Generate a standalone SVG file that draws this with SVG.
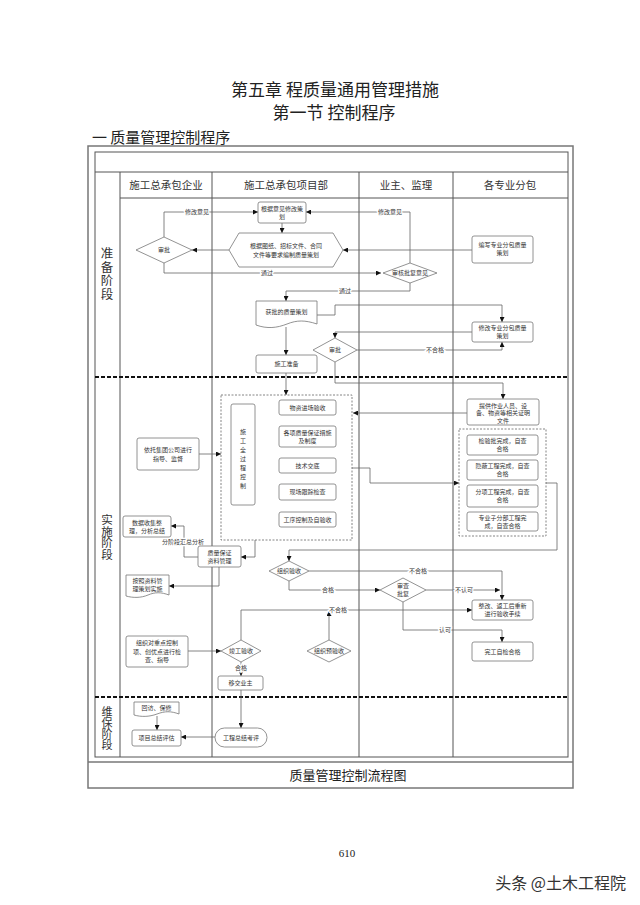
<svg xmlns="http://www.w3.org/2000/svg" width="640" height="905" viewBox="0 0 640 905">
<defs>
<marker id="arr" viewBox="0 0 10 10" refX="10" refY="5" markerWidth="5" markerHeight="5" markerUnits="userSpaceOnUse" orient="auto">
<path d="M0,0 L10,5 L0,10 z" fill="#111"/>
</marker>
<style>
.frame{fill:none;stroke:#777;stroke-width:1.5}
.grid{fill:none;stroke:#555;stroke-width:1}
.phase{fill:none;stroke:#111;stroke-width:1.8;stroke-dasharray:4 2}
.box{fill:#fff;stroke:#777;stroke-width:0.8}
.dash{fill:none;stroke:#666;stroke-width:0.8;stroke-dasharray:2 1.5}
.t{font-family:"Noto Sans CJK SC","Noto Sans",sans-serif;font-size:6px;fill:#333;text-anchor:middle}
.h{font-family:"Noto Sans CJK SC",sans-serif;font-size:10.5px;fill:#333;text-anchor:middle}
.ph{font-family:"Noto Sans CJK SC",sans-serif;fill:#333;text-anchor:middle;writing-mode:tb}
.title{font-family:"Noto Sans CJK SC",sans-serif;font-size:17px;fill:#222;text-anchor:middle}
.conn path{fill:none;stroke:#666;stroke-width:0.8;marker-end:url(#arr)}
.lbl{font-family:"Noto Sans CJK SC",sans-serif;font-size:6px;fill:#333;text-anchor:middle;stroke:#fff;stroke-width:2.5;paint-order:stroke}
</style>
</defs>
<rect width="640" height="905" fill="#fff"/>

<!-- titles -->
<text class="title" x="335" y="96">第五章 程质量通用管理措施</text>
<text class="title" x="334" y="119">第一节 控制程序</text>
<text x="92" y="143" style="font-family:'Noto Sans CJK SC',sans-serif;font-size:15px;fill:#222">一 质量管理控制程序</text>

<!-- frame and swimlanes -->
<g id="frame">
<rect class="frame" x="88" y="146" width="485" height="642"/>
<line class="frame" x1="88" y1="762" x2="573" y2="762"/>
<rect class="grid" x="95" y="152" width="473" height="605"/>
<line class="grid" x1="95" y1="172" x2="568" y2="172"/>
<line class="grid" x1="120" y1="198" x2="568" y2="198"/>
<line class="grid" x1="120" y1="172" x2="120" y2="757"/>
<line class="grid" x1="212" y1="172" x2="212" y2="757"/>
<line class="grid" x1="359" y1="172" x2="359" y2="757"/>
<line class="grid" x1="453" y1="172" x2="453" y2="757"/>
<line class="phase" x1="95" y1="377" x2="568" y2="377"/>
<line class="phase" x1="95" y1="697" x2="568" y2="697"/>
<text class="h" x="166" y="189">施工总承包企业</text>
<text class="h" x="286" y="189">施工总承包项目部</text>
<text class="h" x="406" y="189">业主、监理</text>
<text class="h" x="510" y="189">各专业分包</text>
<text class="ph" x="107" y="274" style="font-size:12.5px;letter-spacing:1px">准备阶段</text>
<text class="ph" x="107" y="537" style="font-size:11.5px">实施阶段</text>
<text class="ph" x="107" y="728" style="font-size:11px">维保阶段</text>
<text x="348" y="780" style="font-family:'Noto Sans CJK SC',sans-serif;font-size:13px;fill:#222;text-anchor:middle">质量管理控制流程图</text>
</g>

<!-- connectors -->
<g id="connectors" class="conn">
<path d="M282,223 V233"/>
<path d="M229,250 H192"/>
<path d="M164,237 V212 H258"/>
<path d="M164,263 V273 H381"/>
<path d="M410,263 V212 H306"/>
<path d="M472,250 H343"/>
<path d="M410,283 V291 H286 V301"/>
<path d="M317,315 H335 V305 H502 V322"/>
<path d="M472,332 H335 V338"/>
<path d="M357,350 H502 V342"/>
<path d="M286,327 V355"/>
<path d="M286,373 V395"/>
<path d="M335,362 V383 H503 V399"/>
<path d="M467,413 H353"/>
<path d="M199,454 H221"/>
<path d="M352,468 H370 V483 H459"/>
<path d="M546,483 H557 V550 H289 V561"/>
<path d="M255,540 V557 H241"/>
<path d="M198,557 H184 V526 H171"/>
<path d="M219,567 V586 H169"/>
<path d="M309,571 H502 V600"/>
<path d="M289,581 V590 H380"/>
<path d="M426,590 H500"/>
<path d="M403,602 V630 H502 V642"/>
<path d="M241,640 V610 H472"/>
<path d="M329,640 V611"/>
<path d="M188,651 H221"/>
<path d="M241,662 V676"/>
<path d="M241,690 V728"/>
<path d="M215,737 H181"/>
<path d="M157,716 V730"/>
<text class="lbl" x="197" y="214">修改意见</text>
<text class="lbl" x="267" y="275">通过</text>
<text class="lbl" x="390" y="214">修改意见</text>
<text class="lbl" x="345" y="293">通过</text>
<text class="lbl" x="435" y="352">不合格</text>
<text class="lbl" x="183" y="544">分阶段汇总分析</text>
<text class="lbl" x="418" y="573">不合格</text>
<text class="lbl" x="328" y="592">合格</text>
<text class="lbl" x="464" y="592">不认可</text>
<text class="lbl" x="445" y="632">认可</text>
<text class="lbl" x="338" y="612">不合格</text>
<text class="lbl" x="241" y="670">合格</text>
</g>

<!-- preparation phase -->
<g id="n-revise">
<rect class="box" x="258" y="202" width="48" height="21" rx="2"/>
<text class="t" x="282" y="210.5">根据意见修改策</text>
<text class="t" x="282" y="218.5">划</text>
</g>
<g id="n-plan">
<polygon class="box" points="229,250 239,233 333,233 343,250 333,267 239,267"/>
<text class="t" x="286" y="248">根据图纸、招标文件、合同</text>
<text class="t" x="286" y="257">文件等要求编制质量策划</text>
</g>
<g id="n-approve1">
<polygon class="box" points="136,250 164,237 192,250 164,263"/>
<text class="t" x="164" y="252">审批</text>
</g>
<g id="n-review">
<polygon class="box" points="383,273 410,263 437,273 410,283"/>
<text class="t" x="410" y="275">审核批复意见</text>
</g>
<g id="n-subplan">
<rect class="box" x="472" y="236" width="61" height="27" rx="2"/>
<text class="t" x="502.5" y="247">编写专业分包质量</text>
<text class="t" x="502.5" y="255">策划</text>
</g>
<g id="n-approved">
<path class="box" d="M256,301 H317 V324 C305,320 297,320 287,324 C277,328 267,329 256,325 Z"/>
<text class="t" x="286.5" y="314">获批的质量策划</text>
</g>
<g id="n-subrevise">
<rect class="box" x="472" y="322" width="61" height="20" rx="2"/>
<text class="t" x="502.5" y="330">修改专业分包质量</text>
<text class="t" x="502.5" y="338">策划</text>
</g>
<g id="n-approve2">
<polygon class="box" points="313,350 335,338 357,350 335,362"/>
<text class="t" x="335" y="352">审批</text>
</g>
<g id="n-prep">
<rect class="box" x="256" y="355" width="61" height="18" rx="2"/>
<text class="t" x="286.5" y="366">施工准备</text>
</g>

<!-- implementation phase -->
<g id="n-process">
<rect class="dash" x="221" y="395" width="131" height="145"/>
<rect class="box" x="231" y="404" width="24" height="101" rx="2"/>
<text class="t" x="243" y="434">施</text>
<text class="t" x="243" y="443">工</text>
<text class="t" x="243" y="452">全</text>
<text class="t" x="243" y="461">过</text>
<text class="t" x="243" y="470">程</text>
<text class="t" x="243" y="479">控</text>
<text class="t" x="243" y="488">制</text>
</g>
<g id="n-material">
<rect class="box" x="279" y="400" width="57" height="15" rx="2"/>
<text class="t" x="307.5" y="409.5">物资进场验收</text>
</g>
<g id="n-measures">
<rect class="box" x="279" y="426" width="57" height="21" rx="2"/>
<text class="t" x="307.5" y="434.5">各项质量保证措施</text>
<text class="t" x="307.5" y="442.5">及制度</text>
</g>
<g id="n-tech">
<rect class="box" x="279" y="458" width="57" height="15" rx="2"/>
<text class="t" x="307.5" y="467.5">技术交底</text>
</g>
<g id="n-track">
<rect class="box" x="279" y="484" width="57" height="16" rx="2"/>
<text class="t" x="307.5" y="494">现场跟踪检查</text>
</g>
<g id="n-procedure">
<rect class="box" x="279" y="512" width="57" height="15" rx="2"/>
<text class="t" x="307.5" y="521.5">工序控制及自验收</text>
</g>
<g id="n-group">
<rect class="box" x="137" y="438" width="62" height="32" rx="2"/>
<text class="t" x="168" y="452">依托集团公司进行</text>
<text class="t" x="168" y="461">指导、监督</text>
</g>
<g id="n-provide">
<rect class="box" x="467" y="399" width="72" height="26" rx="2"/>
<text class="t" x="503" y="407.5">提供作业人员、设</text>
<text class="t" x="503" y="415">备、物资等相关证明</text>
<text class="t" x="503" y="422.5">文件</text>
</g>
<g id="n-subchecks">
<rect class="dash" x="459" y="429" width="87" height="107"/>
<rect class="box" x="467" y="435" width="71" height="20" rx="2"/>
<text class="t" x="502.5" y="443">检验批完成，自查</text>
<text class="t" x="502.5" y="451">合格</text>
<rect class="box" x="467" y="460" width="71" height="20" rx="2"/>
<text class="t" x="502.5" y="468">隐蔽工程完成，自查</text>
<text class="t" x="502.5" y="476">合格</text>
<rect class="box" x="467" y="485" width="71" height="22" rx="2"/>
<text class="t" x="502.5" y="494">分项工程完成，自查</text>
<text class="t" x="502.5" y="502">合格</text>
<rect class="box" x="467" y="512" width="71" height="19" rx="2"/>
<text class="t" x="502.5" y="520">专业子分部工程完</text>
<text class="t" x="502.5" y="528">成，自查合格</text>
</g>
<g id="n-data">
<rect class="box" x="123" y="516" width="48" height="21" rx="2"/>
<text class="t" x="147" y="524.5">数据收集整</text>
<text class="t" x="147" y="532.5">理，分析总结</text>
</g>
<g id="n-records">
<rect class="box" x="198" y="546" width="43" height="21" rx="2"/>
<text class="t" x="219.5" y="554.5">质量保证</text>
<text class="t" x="219.5" y="562.5">资料管理</text>
</g>
<g id="n-docplan">
<path class="box" d="M126,575 H169 V595 C161,592 155,592 148,595 C141,598 133,598 126,596 Z"/>
<text class="t" x="147.5" y="583">按照资料管</text>
<text class="t" x="147.5" y="591">理策划实施</text>
</g>
<g id="n-inspect">
<polygon class="box" points="269,571 289,561 309,571 289,581"/>
<text class="t" x="289" y="573">组织验收</text>
</g>
<g id="n-check">
<polygon class="box" points="380,590 403,578 426,590 403,602"/>
<text class="t" x="403" y="588">审查</text>
<text class="t" x="403" y="596">批复</text>
</g>
<g id="n-rework">
<rect class="box" x="472" y="600" width="61" height="20" rx="2"/>
<text class="t" x="502.5" y="608">整改、返工后重新</text>
<text class="t" x="502.5" y="616">进行验收手续</text>
</g>
<g id="n-selfcheck">
<rect class="box" x="472" y="642" width="61" height="19" rx="2"/>
<text class="t" x="502.5" y="653.5">完工自检合格</text>
</g>
<g id="n-keypoints">
<rect class="box" x="126" y="636" width="62" height="31" rx="2"/>
<text class="t" x="157" y="645">组织对重点控制</text>
<text class="t" x="157" y="653.5">项、创优点进行检</text>
<text class="t" x="157" y="662">查、指导</text>
</g>
<g id="n-final">
<polygon class="box" points="221,651 241,640 261,651 241,662"/>
<text class="t" x="241" y="653">竣工验收</text>
</g>
<g id="n-preinspect">
<polygon class="box" points="307,651 329,640 351,651 329,662"/>
<text class="t" x="329" y="653">组织预验收</text>
</g>
<g id="n-handover">
<rect class="box" x="218" y="676" width="45" height="14" rx="2"/>
<text class="t" x="240.5" y="685">移交业主</text>
</g>

<!-- maintenance phase -->
<g id="n-visit">
<path class="box" d="M134,702 H179 V714 C171,711 165,711 157,714 C149,717 141,717 134,715 Z"/>
<text class="t" x="156.5" y="710">回访、保修</text>
</g>
<g id="n-assess">
<rect class="box" x="132" y="730" width="49" height="16" rx="2"/>
<text class="t" x="156.5" y="740">项目总结评估</text>
</g>
<g id="n-summary">
<rect class="box" x="215" y="728" width="52" height="19" rx="9.5"/>
<text class="t" x="241" y="739.5">工程总结考评</text>
</g>

<text x="347" y="857" style="font-family:'Liberation Serif',serif;font-size:11px;fill:#222;text-anchor:middle">610</text>
<text x="626" y="889" style="font-family:'Noto Sans CJK SC',sans-serif;font-size:16px;fill:#333;text-anchor:end">头条 @土木工程院</text>
</svg>
